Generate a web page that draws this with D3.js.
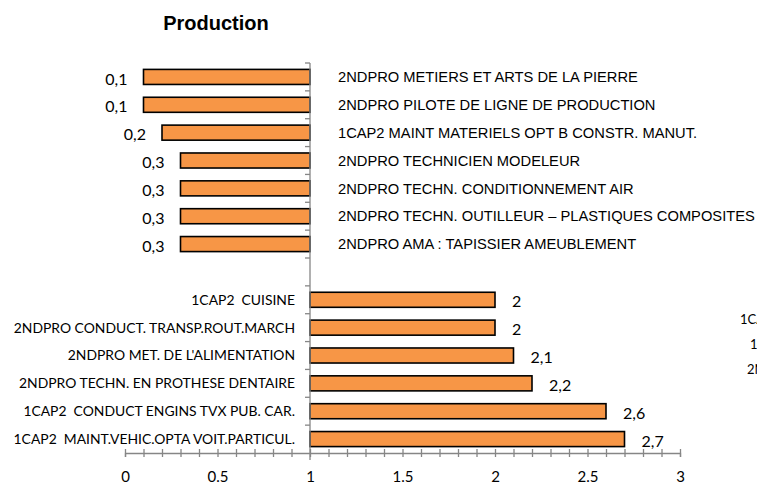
<!DOCTYPE html>
<html><head><meta charset="utf-8">
<script src="https://cdn.jsdelivr.net/npm/d3@7"></script>
<style>body{margin:0;background:#fff;} svg{display:block;} text{white-space:pre;}</style>
</head><body>
<script>
const title = "Production";
const categories = [
  "2NDPRO METIERS ET ARTS DE LA PIERRE",
  "2NDPRO PILOTE DE LIGNE DE PRODUCTION",
  "1CAP2 MAINT MATERIELS OPT B CONSTR. MANUT.",
  "2NDPRO TECHNICIEN MODELEUR",
  "2NDPRO TECHN. CONDITIONNEMENT AIR",
  "2NDPRO TECHN. OUTILLEUR \u2013 PLASTIQUES COMPOSITES",
  "2NDPRO AMA : TAPISSIER AMEUBLEMENT",
  "",
  "1CAP2  CUISINE",
  "2NDPRO CONDUCT. TRANSP.ROUT.MARCH",
  "2NDPRO MET. DE L'ALIMENTATION",
  "2NDPRO TECHN. EN PROTHESE DENTAIRE",
  "1CAP2  CONDUCT ENGINS TVX PUB. CAR.",
  "1CAP2  MAINT.VEHIC.OPTA VOIT.PARTICUL."
];
const values = [0.1, 0.1, 0.2, 0.3, 0.3, 0.3, 0.3, null, 2, 2, 2.1, 2.2, 2.6, 2.7];
const xTickLabels = [0, 0.5, 1, 1.5, 2, 2.5, 3];
const clippedLegend = ["1CAP2", "1", "2NDPRO"];

const W = 757, H = 484;
const svg = d3.select("body").append("svg").attr("width", W).attr("height", H);
const x = d3.scaleLinear().domain([0, 3]).range([125, 680]);
const y = d3.scaleBand().domain(d3.range(categories.length)).range([63, 453]).paddingInner(0.46).paddingOuter(0.23);
const base = 1;
const axisColor = "#868686";
const calibri = "Lato, 'Open Sans', sans-serif";
const arial = "'Liberation Sans', Arial, sans-serif";

svg.append("text").attr("x", 216).attr("y", 30).attr("text-anchor", "middle")
  .attr("font-family", arial).attr("font-weight", "bold").attr("font-size", 20).attr("fill", "#000").text(title);

const rows = categories.map((c, i) => ({c, v: values[i], i})).filter(d => d.v !== null);

// bars
svg.append("g").selectAll("rect").data(rows).join("rect")
  .attr("x", d => Math.min(x(base), x(d.v)))
  .attr("y", d => y(d.i))
  .attr("width", d => Math.abs(x(d.v) - x(base)))
  .attr("height", y.bandwidth())
  .attr("fill", "#F79646").attr("stroke", "#000").attr("stroke-width", 1.6);

// vertical axis
const yAxisG = svg.append("g");
yAxisG.append("line").attr("x1", x(base)).attr("x2", x(base)).attr("y1", 63).attr("y2", 460)
  .attr("stroke", axisColor).attr("stroke-width", 1.3);
yAxisG.selectAll("line.t").data(d3.range(categories.length)).join("line").attr("class", "t")
  .attr("x1", x(base) - 5).attr("x2", x(base))
  .attr("y1", (d) => 63 + d * (390 / categories.length)).attr("y2", (d) => 63 + d * (390 / categories.length))
  .attr("stroke", axisColor).attr("stroke-width", 1.3);

// horizontal axis with minor ticks
const minor = svg.append("g").attr("transform", "translate(0,453)")
  .call(d3.axisBottom(x).tickValues(d3.range(0, 31).map(k => k / 10)).tickSize(4).tickFormat(""));
minor.select(".domain").attr("stroke", axisColor).attr("stroke-width", 1.3);
minor.selectAll(".tick line").attr("y1", -4).attr("y2", 4).attr("stroke", axisColor).attr("stroke-width", 1.3);

const major = svg.append("g").attr("transform", "translate(0,453)")
  .call(d3.axisBottom(x).tickValues(xTickLabels).tickSize(0).tickPadding(18).tickFormat(d => String(d)));
major.select(".domain").remove();
major.selectAll("text").attr("font-family", calibri).attr("font-size", 15).attr("fill", "#000");

// category labels
svg.append("g").selectAll("text").data(rows).join("text")
  .attr("x", d => d.v < base ? x(base) + 28 : x(base) - 15)
  .attr("y", d => y(d.i) + y.bandwidth() / 2)
  .attr("dy", "0.35em")
  .attr("text-anchor", d => d.v < base ? "start" : "end")
  .attr("font-family", d => d.v < base ? arial : calibri)
  .attr("font-size", d => d.v < base ? 14.7 : 13.9)
  .attr("fill", "#000")
  .text(d => d.c);

// value labels
svg.append("g").selectAll("text").data(rows).join("text")
  .attr("x", d => d.v < base ? x(d.v) - 16 : x(d.v) + 17)
  .attr("y", d => y(d.i) + y.bandwidth() / 2 + 2)
  .attr("dy", "0.35em")
  .attr("text-anchor", d => d.v < base ? "end" : "start")
  .attr("font-family", calibri).attr("font-size", 16).attr("fill", "#000")
  .text(d => String(d.v).replace(".", ","));

// clipped legend text at right edge
const legX = [740, 750, 747];
svg.append("g").selectAll("text").data(clippedLegend).join("text")
  .attr("x", (d, i) => legX[i]).attr("y", (d, i) => 319 + i * 25).attr("dy", "0.35em")
  .attr("font-family", calibri).attr("font-size", 13).attr("fill", "#000").text(d => d);
</script>
</body></html>
